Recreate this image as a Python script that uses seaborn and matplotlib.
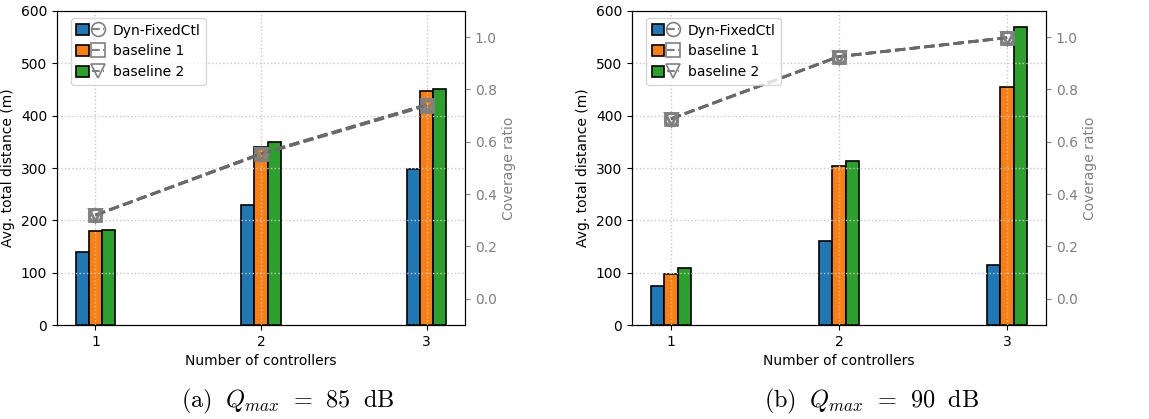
import matplotlib
matplotlib.use("Agg")
import matplotlib.pyplot as plt
import seaborn as sns
import pandas as pd
from matplotlib.patches import Patch
from matplotlib.lines import Line2D
from matplotlib.legend_handler import HandlerTuple

plt.rcParams['mathtext.fontset'] = 'cm'

controllers = [1, 2, 3]
methods = ["Dyn-FixedCtl", "baseline 1", "baseline 2"]
bar_colors = ["#1f77b4", "#ff7f0e", "#2ca02c"]
markers = ["o", "s", "v"]

# (a) Qmax = 85 dB
dist_a_dyn = [139, 230, 298]
dist_a_b1 = [180, 341, 447]
dist_a_b2 = [182, 349, 451]
cov_a_dyn = [0.32, 0.555, 0.742]
cov_a_b1 = [0.32, 0.552, 0.738]
cov_a_b2 = [0.32, 0.555, 0.742]

# (b) Qmax = 90 dB
dist_b_dyn = [75, 160, 115]
dist_b_b1 = [98, 303, 455]
dist_b_b2 = [108, 314, 569]
cov_b_dyn = [0.688, 0.926, 0.998]
cov_b_b1 = [0.688, 0.926, 0.998]
cov_b_b2 = [0.688, 0.926, 0.998]

captions = [r"$\mathrm{(a)}\ \;Q_{max}\;\,=\;\,85\ \;\mathrm{dB}$",
            r"$\mathrm{(b)}\ \;Q_{max}\;\,=\;\,90\ \;\mathrm{dB}$"]

panels = [
    ([dist_a_dyn, dist_a_b1, dist_a_b2], [cov_a_dyn, cov_a_b1, cov_a_b2]),
    ([dist_b_dyn, dist_b_b1, dist_b_b2], [cov_b_dyn, cov_b_b1, cov_b_b2]),
]

fig = plt.figure(figsize=(11.49, 4.19), dpi=100)
W, H = 1149, 419
axes_px = [(57, 11, 408, 314), (632, 11, 414, 314)]
cap_x = [288, 871]

for i, ((dists, covs), (x0, y0, w, h)) in enumerate(zip(panels, axes_px)):
    ax = fig.add_axes([x0 / W, 1 - (y0 + h) / H, w / W, h / H])
    rows = []
    for m, d in zip(methods, dists):
        for c, v in zip(controllers, d):
            rows.append({"ctrl": c, "method": m, "dist": v})
    df = pd.DataFrame(rows)
    sns.barplot(data=df, x="ctrl", y="dist", hue="method", hue_order=methods,
                palette=bar_colors, native_scale=True, width=0.24, saturation=1,
                edgecolor="black", linewidth=1.2, errorbar=None, legend=False, ax=ax)
    ax.set_xlim(0.768, 3.232)
    ax.set_ylim(0, 600)
    ax.set_xticks(controllers)
    ax.set_xticklabels([str(c) for c in controllers])
    ax.set_yticks(range(0, 601, 100))
    ax.set_xlabel("Number of controllers")
    ax.set_ylabel("Avg. total distance (m)")
    ax.grid(True, linestyle=":", color="#c8c8c8", linewidth=1)
    ax.set_axisbelow(False)

    ax2 = ax.twinx()
    for m, cv, mk in zip(methods, covs, markers):
        sns.lineplot(x=controllers, y=cv, ax=ax2, color="dimgray", linestyle="--",
                     linewidth=2, marker=mk, markersize=9, markerfacecolor="none",
                     markeredgecolor="gray", markeredgewidth=2, legend=False)
    ax2.set_ylim(-0.1, 1.1)
    ax2.set_yticks([0.0, 0.2, 0.4, 0.6, 0.8, 1.0])
    ax2.set_ylabel("Coverage ratio", color="gray")
    ax2.tick_params(axis="y", colors="gray")
    ax2.grid(False)

    handles = []
    for col, mk in zip(bar_colors, markers):
        p = Patch(facecolor=col, edgecolor="black", linewidth=1.2)
        l = Line2D([], [], color="gray", linestyle="--", marker=mk, markersize=10,
                   markerfacecolor="none", markeredgecolor="gray", markeredgewidth=1.2)
        handles.append((p, l))
    ax2.legend(handles, methods, loc="upper left", bbox_to_anchor=(0.017, 1.0),
               handler_map={tuple: HandlerTuple(ndivide=None, pad=0.2)},
               handletextpad=0.6, handleheight=0.85)

    fig.text(cap_x[i] / W, 1 - 401 / H, captions[i], ha="center", va="center", fontsize=17.5)

fig.savefig("out.png", dpi=100)
